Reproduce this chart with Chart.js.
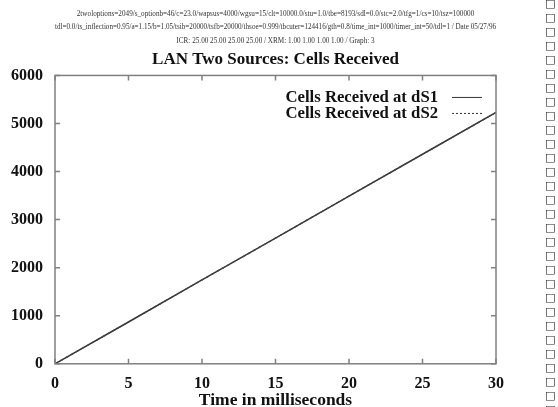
<!DOCTYPE html>
<html>
<head>
<meta charset="utf-8">
<script src="https://cdn.jsdelivr.net/npm/chart.js@4.4.0/dist/chart.umd.min.js"></script>
<style>
    body { margin: 0; background: #fff; }
    #wrap { position: absolute; left: 0; top: 0; width: 552px; height: 407px; }
    #strip { position: absolute; left: 545px; top: -3px; width: 13px; font: 11px/14px "DejaVu Sans"; color: #222; }
</style>
</head>
<body>
<div id="wrap"><canvas id="chart-cells"></canvas></div>
<div id="strip"></div>
<script>
const times = [0, 5, 10, 15, 20, 25, 30];
const cellsDs1 = [0, 870, 1745, 2615, 3490, 4360, 5230];
const cellsDs2 = [0, 870, 1745, 2615, 3490, 4360, 5230];
const yTicks = [0, 1000, 2000, 3000, 4000, 5000, 6000];
const xTicks = [0, 5, 10, 15, 20, 25, 30];
const seriesNames = ['Cells Received at dS1', 'Cells Received at dS2'];
const headerLines = [
    '2twoloptions=2049/s_optionb=46/c=23.0/wapsus=4000/wgsu=15/clt=10000.0/stu=1.0/tbe=8193/sdl=0.0/stc=2.0/tfg=1/cs=10/tsz=100000',
    'tdl=0.0/ts_inflection=0.95/a=1.15/b=1.05/tsib=20000/tsfb=20000/thsoe=0.999/tbcuter=124416/gth=0.8/time_int=1000/timer_int=50/tdl=1 / Date 05/27/96',
    'ICR: 25.00 25.00 25.00 25.00 / XRM: 1.00 1.00 1.00 1.00 / Graph: 3'
];

const ctx = document.getElementById('chart-cells');
const serif = '"Liberation Serif", "Times New Roman", serif';

// the little column of boxes down the right edge
document.getElementById('strip').innerHTML = Array(30).fill('\u25A1').join('<br>');

// frame, inward ticks and the text-then-line legend
const framePlugin = {
    id: 'frame',
    afterDatasetsDraw(chart) {
        const c = chart.ctx;
        const a = chart.chartArea;
        const xs = chart.scales.x;
        const ys = chart.scales.y;
        c.save();
        c.strokeStyle = '#808080';
        c.lineWidth = 1.5;
        c.strokeRect(a.left, a.top, a.right - a.left, a.bottom - a.top);
        c.beginPath();
        xTicks.forEach(function (t) {
            const px = xs.getPixelForValue(t);
            c.moveTo(px, a.bottom); c.lineTo(px, a.bottom - 5);
            c.moveTo(px, a.top); c.lineTo(px, a.top + 5);
        });
        yTicks.forEach(function (t) {
            const py = ys.getPixelForValue(t);
            c.moveTo(a.left, py); c.lineTo(a.left + 5, py);
            c.moveTo(a.right, py); c.lineTo(a.right - 5, py);
        });
        c.stroke();

        c.font = 'bold 16.7px ' + serif;
        c.fillStyle = '#111';
        c.textAlign = 'right';
        c.textBaseline = 'middle';
        c.strokeStyle = '#333';
        c.lineWidth = 1;
        seriesNames.forEach(function (name, i) {
            const y = a.top + 22 + i * 16;
            c.fillText(name, a.right - 58, y);
            c.setLineDash(i === 0 ? [] : [2, 2]);
            c.beginPath();
            c.moveTo(a.right - 44, y);
            c.lineTo(a.right - 14, y);
            c.stroke();
        });
        c.restore();
    }
};

new Chart(ctx, {
    type: 'line',
    data: {
        datasets: [{
            label: seriesNames[1],
            data: times.map(function (t, i) { return {x: t, y: cellsDs2[i]}; }),
            borderColor: '#444',
            borderWidth: 1.3,
            borderDash: [3, 3],
            pointRadius: 0
        }, {
            label: seriesNames[0],
            data: times.map(function (t, i) { return {x: t, y: cellsDs1[i]}; }),
            borderColor: '#333',
            borderWidth: 1.5,
            pointRadius: 0
        }]
    },
    plugins: [framePlugin],
    options: {
        responsive: true,
        maintainAspectRatio: false,
        animation: false,
        layout: {
            padding: {left: 4, right: 56, top: 0, bottom: -4}
        },
        plugins: {
            legend: {display: false},
            tooltip: {enabled: false},
            title: {
                display: true,
                fullSize: false,
                text: headerLines,
                color: '#333',
                font: {family: serif, size: 7.2, weight: 'normal', lineHeight: 1.9},
                padding: {top: 7, bottom: 0}
            },
            subtitle: {
                display: true,
                fullSize: false,
                text: 'LAN Two Sources: Cells Received',
                color: '#111',
                font: {family: serif, size: 17, weight: 'bold'},
                padding: {top: 1, bottom: 6}
            }
        },
        scales: {
            x: {
                type: 'linear',
                min: 0,
                max: 30,
                afterBuildTicks: function (axis) {
                    axis.ticks = xTicks.map(function (v) { return {value: v}; });
                },
                grid: {display: false},
                border: {display: false},
                ticks: {
                    color: '#111',
                    font: {family: serif, size: 16, weight: 'bold'},
                    padding: 2,
                    maxRotation: 0,
                    callback: function (v) { return String(v); }
                },
                title: {
                    display: true,
                    text: 'Time in milliseconds',
                    color: '#111',
                    font: {family: serif, size: 17.5, weight: 'bold'},
                    padding: {top: -5, bottom: 0}
                }
            },
            y: {
                min: 0,
                max: 6000,
                afterBuildTicks: function (axis) {
                    axis.ticks = yTicks.map(function (v) { return {value: v}; });
                },
                afterFit: function (axis) {
                    axis.width = 51;
                },
                grid: {display: false},
                border: {display: false},
                ticks: {
                    color: '#111',
                    font: {family: serif, size: 16, weight: 'bold'},
                    padding: 4,
                    callback: function (v) { return String(v); }
                }
            }
        }
    }
});
</script>
</body>
</html>
